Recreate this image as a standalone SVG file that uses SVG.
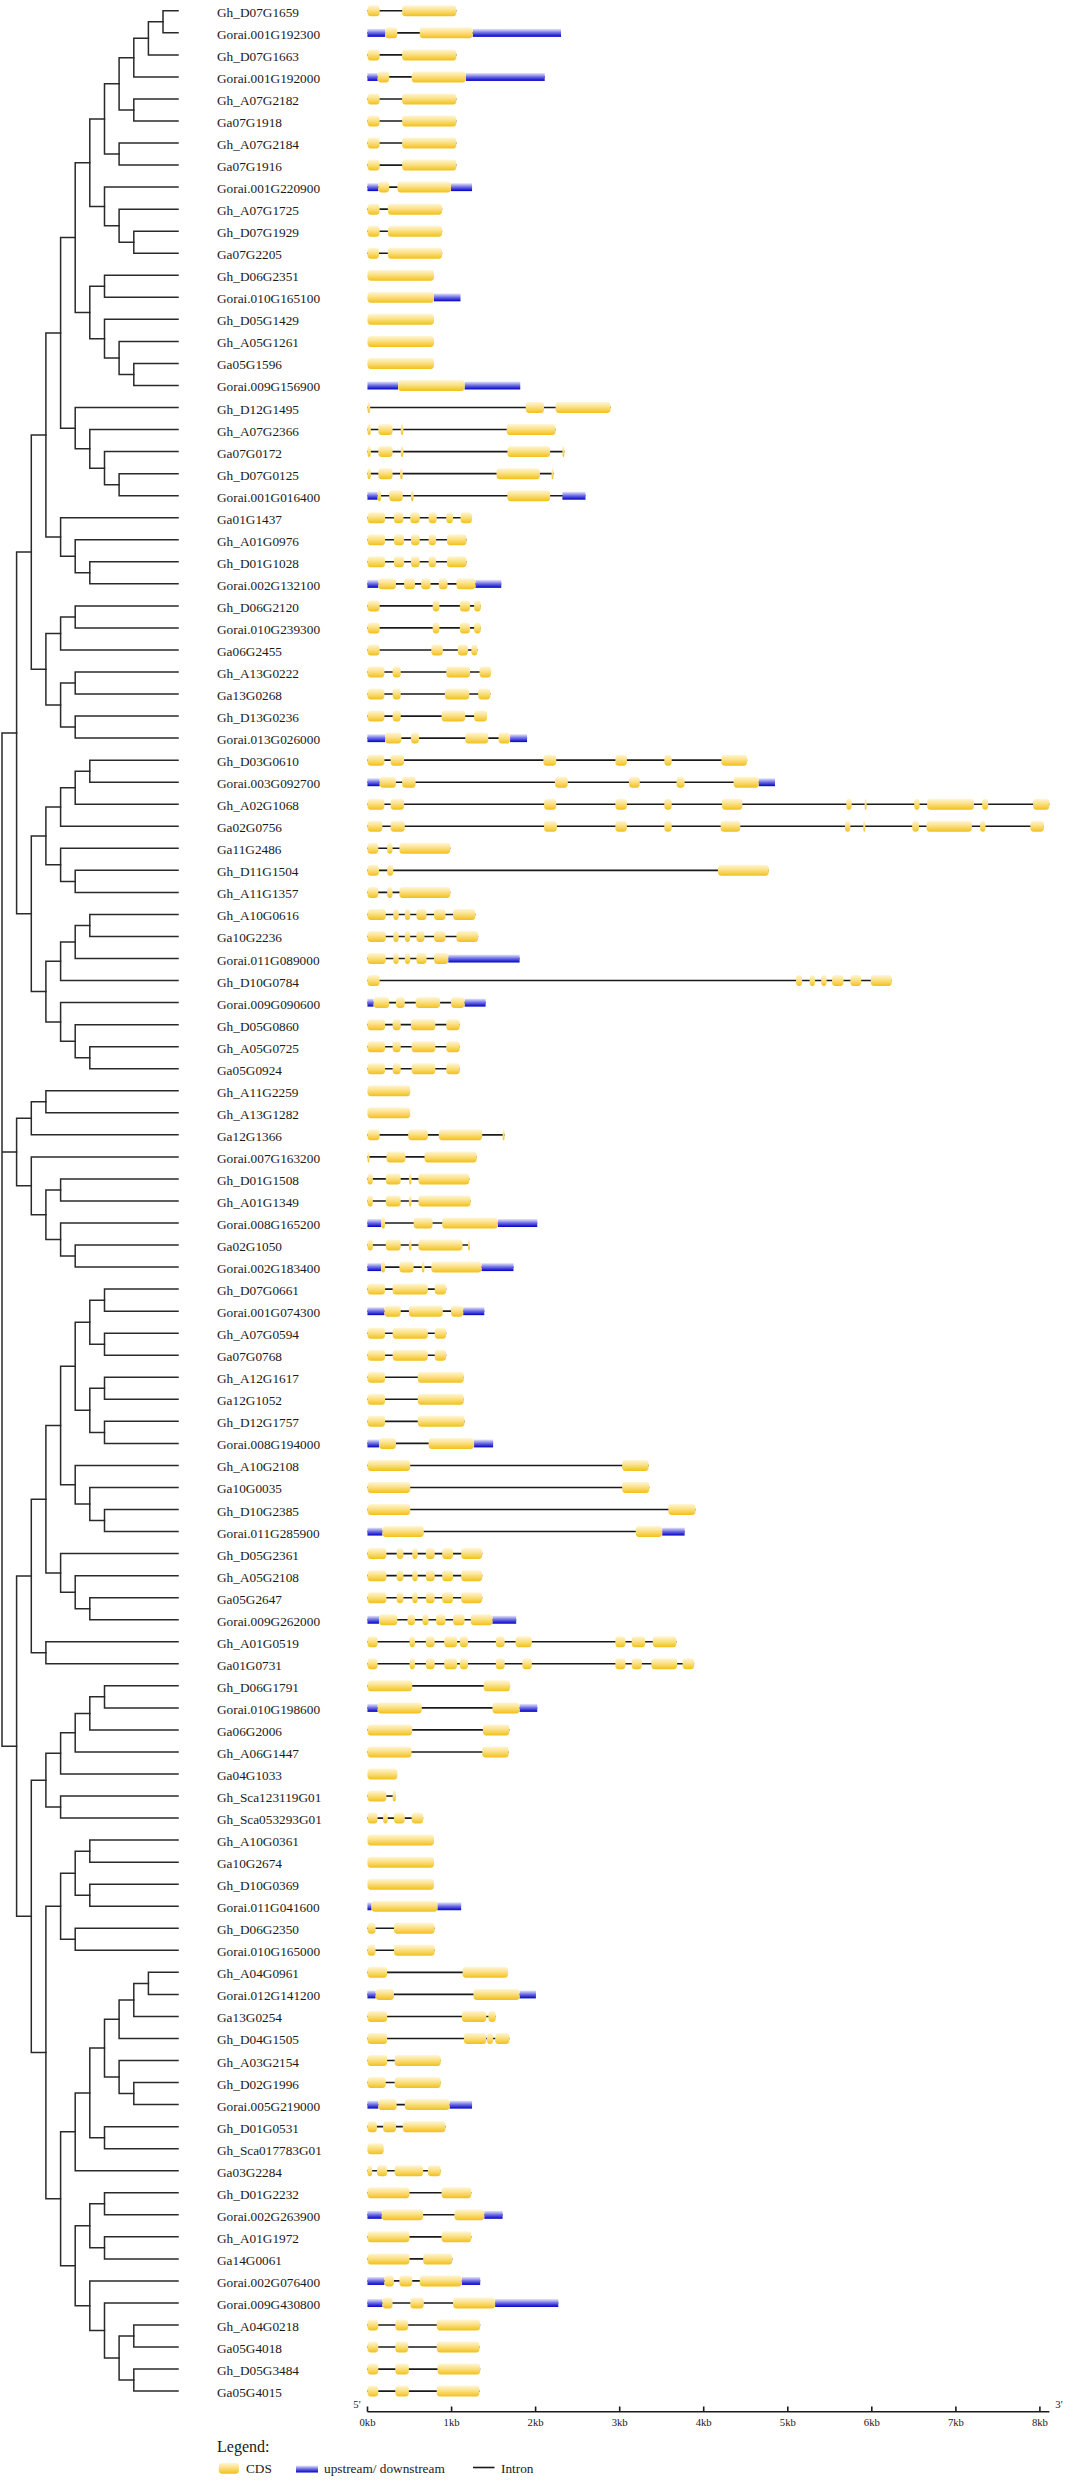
<svg xmlns="http://www.w3.org/2000/svg" width="1065" height="2481" viewBox="0 0 1065 2481">
<defs>
<linearGradient id="gc" x1="0" y1="0" x2="0" y2="1"><stop offset="0" stop-color="#fff6d6"/><stop offset="0.45" stop-color="#fbe186"/><stop offset="1" stop-color="#f2c01a"/></linearGradient>
<linearGradient id="gu" x1="0" y1="0" x2="0" y2="1"><stop offset="0" stop-color="#e8e8fb"/><stop offset="0.5" stop-color="#6b6be6"/><stop offset="1" stop-color="#0000c4"/></linearGradient>
</defs>
<style>
.lb{font-family:"Liberation Serif","Times New Roman",serif;font-size:13.3px;fill:#1a1a1a}
.c{fill:url(#gc);rx:5px;ry:4px}
.u{fill:url(#gu)}
.in{stroke:#1a1a1a;stroke-width:1.6;fill:none}
.tr{stroke:#2a2a2a;stroke-width:1.5;fill:none;stroke-linecap:square}
.ax{stroke:#1a1a1a;stroke-width:1.6;fill:none}
.tk{font-family:"Liberation Serif","Times New Roman",serif;font-size:10.7px;fill:#1a1a1a;text-anchor:middle}
.lg{font-family:"Liberation Serif","Times New Roman",serif;font-size:13.3px;fill:#1a1a1a}
</style>
<rect width="1065" height="2481" fill="#fff"/>
<g id="connectors" class="tr">
<path d="M163 10.8V32.84M163 10.8H178M163 32.84H178"/>
<path d="M148.4 21.82V54.88M148.4 21.82H163M148.4 54.88H178"/>
<path d="M133.8 38.35V76.92M133.8 38.35H148.4M133.8 76.92H178"/>
<path d="M133.8 98.96V121M133.8 98.96H178M133.8 121H178"/>
<path d="M119.1 57.64V109.98M119.1 57.64H133.8M119.1 109.98H133.8"/>
<path d="M119.1 143.04V165.08M119.1 143.04H178M119.1 165.08H178"/>
<path d="M104.5 83.81V154.06M104.5 83.81H119.1M104.5 154.06H119.1"/>
<path d="M133.8 231.2V253.24M133.8 231.2H178M133.8 253.24H178"/>
<path d="M119.1 209.16V242.22M119.1 209.16H178M119.1 242.22H133.8"/>
<path d="M104.5 187.12V225.69M104.5 187.12H178M104.5 225.69H119.1"/>
<path d="M89.8 118.93V206.41M89.8 118.93H104.5M89.8 206.41H104.5"/>
<path d="M104.5 275.28V297.32M104.5 275.28H178M104.5 297.32H178"/>
<path d="M133.8 363.44V385.48M133.8 363.44H178M133.8 385.48H178"/>
<path d="M119.1 341.4V374.46M119.1 341.4H178M119.1 374.46H133.8"/>
<path d="M104.5 319.36V357.93M104.5 319.36H178M104.5 357.93H119.1"/>
<path d="M89.8 286.3V338.65M89.8 286.3H104.5M89.8 338.65H104.5"/>
<path d="M75.2 162.67V312.47M75.2 162.67H89.8M75.2 312.47H89.8"/>
<path d="M119.1 473.64V495.68M119.1 473.64H178M119.1 495.68H178"/>
<path d="M104.5 451.6V484.66M104.5 451.6H178M104.5 484.66H119.1"/>
<path d="M89.8 429.56V468.13M89.8 429.56H178M89.8 468.13H104.5"/>
<path d="M75.2 407.52V448.85M75.2 407.52H178M75.2 448.85H89.8"/>
<path d="M60.6 237.57V428.18M60.6 237.57H75.2M60.6 428.18H75.2"/>
<path d="M89.8 561.8V583.84M89.8 561.8H178M89.8 583.84H178"/>
<path d="M75.2 539.76V572.82M75.2 539.76H178M75.2 572.82H89.8"/>
<path d="M60.6 517.72V556.29M60.6 517.72H178M60.6 556.29H75.2"/>
<path d="M45.9 332.88V537.01M45.9 332.88H60.6M45.9 537.01H60.6"/>
<path d="M75.2 605.88V627.92M75.2 605.88H178M75.2 627.92H178"/>
<path d="M60.6 616.9V649.96M60.6 616.9H75.2M60.6 649.96H178"/>
<path d="M75.2 672V694.04M75.2 672H178M75.2 694.04H178"/>
<path d="M75.2 716.08V738.12M75.2 716.08H178M75.2 738.12H178"/>
<path d="M60.6 683.02V727.1M60.6 683.02H75.2M60.6 727.1H75.2"/>
<path d="M45.9 633.43V705.06M45.9 633.43H60.6M45.9 705.06H60.6"/>
<path d="M31.3 434.94V669.25M31.3 434.94H45.9M31.3 669.25H45.9"/>
<path d="M89.8 760.16V782.2M89.8 760.16H178M89.8 782.2H178"/>
<path d="M75.2 771.18V804.24M75.2 771.18H89.8M75.2 804.24H178"/>
<path d="M60.6 787.71V826.28M60.6 787.71H75.2M60.6 826.28H178"/>
<path d="M75.2 870.36V892.4M75.2 870.36H178M75.2 892.4H178"/>
<path d="M60.6 848.32V881.38M60.6 848.32H178M60.6 881.38H75.2"/>
<path d="M45.9 807V864.85M45.9 807H60.6M45.9 864.85H60.6"/>
<path d="M89.8 914.44V936.48M89.8 914.44H178M89.8 936.48H178"/>
<path d="M75.2 925.46V958.52M75.2 925.46H89.8M75.2 958.52H178"/>
<path d="M60.6 941.99V980.56M60.6 941.99H75.2M60.6 980.56H178"/>
<path d="M89.8 1046.68V1068.72M89.8 1046.68H178M89.8 1068.72H178"/>
<path d="M75.2 1024.64V1057.7M75.2 1024.64H178M75.2 1057.7H89.8"/>
<path d="M60.6 1002.6V1041.17M60.6 1002.6H178M60.6 1041.17H75.2"/>
<path d="M45.9 961.28V1021.89M45.9 961.28H60.6M45.9 1021.89H60.6"/>
<path d="M31.3 835.92V991.58M31.3 835.92H45.9M31.3 991.58H45.9"/>
<path d="M16.6 552.09V913.75M16.6 552.09H31.3M16.6 913.75H31.3"/>
<path d="M45.9 1090.76V1112.8M45.9 1090.76H178M45.9 1112.8H178"/>
<path d="M31.3 1101.78V1134.84M31.3 1101.78H45.9M31.3 1134.84H178"/>
<path d="M60.6 1178.92V1200.96M60.6 1178.92H178M60.6 1200.96H178"/>
<path d="M75.2 1245.04V1267.08M75.2 1245.04H178M75.2 1267.08H178"/>
<path d="M60.6 1223V1256.06M60.6 1223H178M60.6 1256.06H75.2"/>
<path d="M45.9 1189.94V1239.53M45.9 1189.94H60.6M45.9 1239.53H60.6"/>
<path d="M31.3 1156.88V1214.74M31.3 1156.88H178M31.3 1214.74H45.9"/>
<path d="M16.6 1118.31V1185.81M16.6 1118.31H31.3M16.6 1185.81H31.3"/>
<path d="M104.5 1289.12V1311.16M104.5 1289.12H178M104.5 1311.16H178"/>
<path d="M104.5 1333.2V1355.24M104.5 1333.2H178M104.5 1355.24H178"/>
<path d="M89.8 1300.14V1344.22M89.8 1300.14H104.5M89.8 1344.22H104.5"/>
<path d="M104.5 1377.28V1399.32M104.5 1377.28H178M104.5 1399.32H178"/>
<path d="M104.5 1421.36V1443.4M104.5 1421.36H178M104.5 1443.4H178"/>
<path d="M89.8 1388.3V1432.38M89.8 1388.3H104.5M89.8 1432.38H104.5"/>
<path d="M75.2 1322.18V1410.34M75.2 1322.18H89.8M75.2 1410.34H89.8"/>
<path d="M104.5 1509.52V1531.56M104.5 1509.52H178M104.5 1531.56H178"/>
<path d="M89.8 1487.48V1520.54M89.8 1487.48H178M89.8 1520.54H104.5"/>
<path d="M75.2 1465.44V1504.01M75.2 1465.44H178M75.2 1504.01H89.8"/>
<path d="M60.6 1366.26V1484.73M60.6 1366.26H75.2M60.6 1484.73H75.2"/>
<path d="M89.8 1597.68V1619.72M89.8 1597.68H178M89.8 1619.72H178"/>
<path d="M75.2 1575.64V1608.7M75.2 1575.64H178M75.2 1608.7H89.8"/>
<path d="M60.6 1553.6V1592.17M60.6 1553.6H178M60.6 1592.17H75.2"/>
<path d="M45.9 1425.49V1572.89M45.9 1425.49H60.6M45.9 1572.89H60.6"/>
<path d="M45.9 1641.76V1663.8M45.9 1641.76H178M45.9 1663.8H178"/>
<path d="M31.3 1499.19V1652.78M31.3 1499.19H45.9M31.3 1652.78H45.9"/>
<path d="M104.5 1685.84V1707.88M104.5 1685.84H178M104.5 1707.88H178"/>
<path d="M89.8 1696.86V1729.92M89.8 1696.86H104.5M89.8 1729.92H178"/>
<path d="M75.2 1713.39V1751.96M75.2 1713.39H89.8M75.2 1751.96H178"/>
<path d="M60.6 1732.68V1774M60.6 1732.68H75.2M60.6 1774H178"/>
<path d="M60.6 1796.04V1818.08M60.6 1796.04H178M60.6 1818.08H178"/>
<path d="M45.9 1753.34V1807.06M45.9 1753.34H60.6M45.9 1807.06H60.6"/>
<path d="M89.8 1840.12V1862.16M89.8 1840.12H178M89.8 1862.16H178"/>
<path d="M89.8 1884.2V1906.24M89.8 1884.2H178M89.8 1906.24H178"/>
<path d="M75.2 1851.14V1895.22M75.2 1851.14H89.8M75.2 1895.22H89.8"/>
<path d="M75.2 1928.28V1950.32M75.2 1928.28H178M75.2 1950.32H178"/>
<path d="M60.6 1873.18V1939.3M60.6 1873.18H75.2M60.6 1939.3H75.2"/>
<path d="M148.4 1972.36V1994.4M148.4 1972.36H178M148.4 1994.4H178"/>
<path d="M133.8 1983.38V2016.44M133.8 1983.38H148.4M133.8 2016.44H178"/>
<path d="M119.1 1999.91V2038.48M119.1 1999.91H133.8M119.1 2038.48H178"/>
<path d="M133.8 2082.56V2104.6M133.8 2082.56H178M133.8 2104.6H178"/>
<path d="M119.1 2060.52V2093.58M119.1 2060.52H178M119.1 2093.58H133.8"/>
<path d="M104.5 2019.2V2077.05M104.5 2019.2H119.1M104.5 2077.05H119.1"/>
<path d="M104.5 2126.64V2148.68M104.5 2126.64H178M104.5 2148.68H178"/>
<path d="M89.8 2048.12V2137.66M89.8 2048.12H104.5M89.8 2137.66H104.5"/>
<path d="M75.2 2092.89V2170.72M75.2 2092.89H89.8M75.2 2170.72H178"/>
<path d="M104.5 2192.76V2214.8M104.5 2192.76H178M104.5 2214.8H178"/>
<path d="M104.5 2236.84V2258.88M104.5 2236.84H178M104.5 2258.88H178"/>
<path d="M89.8 2203.78V2247.86M89.8 2203.78H104.5M89.8 2247.86H104.5"/>
<path d="M133.8 2325V2347.04M133.8 2325H178M133.8 2347.04H178"/>
<path d="M133.8 2369.08V2391.12M133.8 2369.08H178M133.8 2391.12H178"/>
<path d="M119.1 2336.02V2380.1M119.1 2336.02H133.8M119.1 2380.1H133.8"/>
<path d="M104.5 2302.96V2358.06M104.5 2302.96H178M104.5 2358.06H119.1"/>
<path d="M89.8 2280.92V2330.51M89.8 2280.92H178M89.8 2330.51H104.5"/>
<path d="M75.2 2225.82V2305.72M75.2 2225.82H89.8M75.2 2305.72H89.8"/>
<path d="M60.6 2131.81V2265.77M60.6 2131.81H75.2M60.6 2265.77H75.2"/>
<path d="M45.9 1906.24V2198.79M45.9 1906.24H60.6M45.9 2198.79H60.6"/>
<path d="M31.3 1780.2V2052.51M31.3 1780.2H45.9M31.3 2052.51H45.9"/>
<path d="M16.6 1575.98V1916.36M16.6 1575.98H31.3M16.6 1916.36H31.3"/>
<path d="M2 732.92V1746.17M2 732.92H16.6M2 1152.06H16.6M2 1746.17H16.6"/>
</g>
<g id="n1" transform="translate(0 10.8)"><text class="lb" x="217" y="6">Gh_D07G1659</text><g transform="scale(.6792 1)"><path class="in" d="M541 0H672"/><rect class="c" x="541" y="-5.5" width="18" height="11"/><rect class="c" x="592" y="-5.5" width="80" height="11"/></g></g>
<g id="n2" transform="translate(0 32.84)"><text class="lb" x="217" y="6">Gorai.001G192300</text><g transform="scale(.6792 1)"><path class="in" d="M541 0H826"/><rect class="u" x="541" y="-4" width="26" height="8"/><rect class="u" x="696" y="-4" width="130" height="8"/><rect class="c" x="567" y="-5.5" width="18" height="11"/><rect class="c" x="618" y="-5.5" width="78" height="11"/></g></g>
<g id="n3" transform="translate(0 54.88)"><text class="lb" x="217" y="6">Gh_D07G1663</text><g transform="scale(.6792 1)"><path class="in" d="M541 0H672"/><rect class="c" x="541" y="-5.5" width="18" height="11"/><rect class="c" x="592" y="-5.5" width="80" height="11"/></g></g>
<g id="n4" transform="translate(0 76.92)"><text class="lb" x="217" y="6">Gorai.001G192000</text><g transform="scale(.6792 1)"><path class="in" d="M541 0H802"/><rect class="u" x="541" y="-4" width="15" height="8"/><rect class="u" x="686" y="-4" width="116" height="8"/><rect class="c" x="556" y="-5.5" width="17" height="11"/><rect class="c" x="606" y="-5.5" width="80" height="11"/></g></g>
<g id="n5" transform="translate(0 98.96)"><text class="lb" x="217" y="6">Gh_A07G2182</text><g transform="scale(.6792 1)"><path class="in" d="M541 0H672"/><rect class="c" x="541" y="-5.5" width="18" height="11"/><rect class="c" x="592" y="-5.5" width="80" height="11"/></g></g>
<g id="n6" transform="translate(0 121)"><text class="lb" x="217" y="6">Ga07G1918</text><g transform="scale(.6792 1)"><path class="in" d="M541 0H672"/><rect class="c" x="541" y="-5.5" width="18" height="11"/><rect class="c" x="592" y="-5.5" width="80" height="11"/></g></g>
<g id="n7" transform="translate(0 143.04)"><text class="lb" x="217" y="6">Gh_A07G2184</text><g transform="scale(.6792 1)"><path class="in" d="M541 0H672"/><rect class="c" x="541" y="-5.5" width="18" height="11"/><rect class="c" x="592" y="-5.5" width="80" height="11"/></g></g>
<g id="n8" transform="translate(0 165.08)"><text class="lb" x="217" y="6">Ga07G1916</text><g transform="scale(.6792 1)"><path class="in" d="M541 0H672"/><rect class="c" x="541" y="-5.5" width="18" height="11"/><rect class="c" x="592" y="-5.5" width="80" height="11"/></g></g>
<g id="n9" transform="translate(0 187.12)"><text class="lb" x="217" y="6">Gorai.001G220900</text><g transform="scale(.6792 1)"><path class="in" d="M541 0H695"/><rect class="u" x="541" y="-4" width="16" height="8"/><rect class="u" x="664" y="-4" width="31" height="8"/><rect class="c" x="557" y="-5.5" width="16" height="11"/><rect class="c" x="585" y="-5.5" width="79" height="11"/></g></g>
<g id="n10" transform="translate(0 209.16)"><text class="lb" x="217" y="6">Gh_A07G1725</text><g transform="scale(.6792 1)"><path class="in" d="M541 0H651"/><rect class="c" x="541" y="-5.5" width="18" height="11"/><rect class="c" x="571" y="-5.5" width="80" height="11"/></g></g>
<g id="n11" transform="translate(0 231.2)"><text class="lb" x="217" y="6">Gh_D07G1929</text><g transform="scale(.6792 1)"><path class="in" d="M541 0H651"/><rect class="c" x="541" y="-5.5" width="18" height="11"/><rect class="c" x="571" y="-5.5" width="80" height="11"/></g></g>
<g id="n12" transform="translate(0 253.24)"><text class="lb" x="217" y="6">Ga07G2205</text><g transform="scale(.6792 1)"><path class="in" d="M541 0H651"/><rect class="c" x="541" y="-5.5" width="17" height="11"/><rect class="c" x="571" y="-5.5" width="80" height="11"/></g></g>
<g id="n13" transform="translate(0 275.28)"><text class="lb" x="217" y="6">Gh_D06G2351</text><g transform="scale(.6792 1)"><rect class="c" x="541" y="-5.5" width="98" height="11"/></g></g>
<g id="n14" transform="translate(0 297.32)"><text class="lb" x="217" y="6">Gorai.010G165100</text><g transform="scale(.6792 1)"><rect class="u" x="639" y="-4" width="39" height="8"/><rect class="c" x="541" y="-5.5" width="98" height="11"/></g></g>
<g id="n15" transform="translate(0 319.36)"><text class="lb" x="217" y="6">Gh_D05G1429</text><g transform="scale(.6792 1)"><rect class="c" x="541" y="-5.5" width="98" height="11"/></g></g>
<g id="n16" transform="translate(0 341.4)"><text class="lb" x="217" y="6">Gh_A05G1261</text><g transform="scale(.6792 1)"><rect class="c" x="541" y="-5.5" width="98" height="11"/></g></g>
<g id="n17" transform="translate(0 363.44)"><text class="lb" x="217" y="6">Ga05G1596</text><g transform="scale(.6792 1)"><rect class="c" x="541" y="-5.5" width="98" height="11"/></g></g>
<g id="n18" transform="translate(0 385.48)"><text class="lb" x="217" y="6">Gorai.009G156900</text><g transform="scale(.6792 1)"><rect class="u" x="541" y="-4" width="45" height="8"/><rect class="u" x="684" y="-4" width="82" height="8"/><rect class="c" x="586" y="-5.5" width="98" height="11"/></g></g>
<g id="n19" transform="translate(0 407.52)"><text class="lb" x="217" y="6">Gh_D12G1495</text><g transform="scale(.6792 1)"><path class="in" d="M541 0H899"/><rect class="c" x="541" y="-5.5" width="4" height="11"/><rect class="c" x="774" y="-5.5" width="27" height="11"/><rect class="c" x="818" y="-5.5" width="81" height="11"/></g></g>
<g id="n20" transform="translate(0 429.56)"><text class="lb" x="217" y="6">Gh_A07G2366</text><g transform="scale(.6792 1)"><path class="in" d="M541 0H818"/><rect class="c" x="541" y="-5.5" width="5" height="11"/><rect class="c" x="557" y="-5.5" width="21" height="11"/><rect class="c" x="590" y="-5.5" width="4" height="11"/><rect class="c" x="746" y="-5.5" width="72" height="11"/></g></g>
<g id="n21" transform="translate(0 451.6)"><text class="lb" x="217" y="6">Ga07G0172</text><g transform="scale(.6792 1)"><path class="in" d="M541 0H831"/><rect class="c" x="541" y="-5.5" width="5" height="11"/><rect class="c" x="557" y="-5.5" width="21" height="11"/><rect class="c" x="590" y="-5.5" width="4" height="11"/><rect class="c" x="747" y="-5.5" width="63" height="11"/><rect class="c" x="828" y="-5.5" width="3" height="11"/></g></g>
<g id="n22" transform="translate(0 473.64)"><text class="lb" x="217" y="6">Gh_D07G0125</text><g transform="scale(.6792 1)"><path class="in" d="M541 0H815"/><rect class="c" x="541" y="-5.5" width="5" height="11"/><rect class="c" x="557" y="-5.5" width="21" height="11"/><rect class="c" x="589" y="-5.5" width="4" height="11"/><rect class="c" x="731" y="-5.5" width="64" height="11"/><rect class="c" x="812" y="-5.5" width="3" height="11"/></g></g>
<g id="n23" transform="translate(0 495.68)"><text class="lb" x="217" y="6">Gorai.001G016400</text><g transform="scale(.6792 1)"><path class="in" d="M541 0H862"/><rect class="u" x="541" y="-4" width="15" height="8"/><rect class="u" x="828" y="-4" width="34" height="8"/><rect class="c" x="556" y="-5.5" width="5" height="11"/><rect class="c" x="573" y="-5.5" width="20" height="11"/><rect class="c" x="605" y="-5.5" width="4" height="11"/><rect class="c" x="747" y="-5.5" width="63" height="11"/></g></g>
<g id="n24" transform="translate(0 517.72)"><text class="lb" x="217" y="6">Ga01G1437</text><g transform="scale(.6792 1)"><path class="in" d="M541 0H695"/><rect class="c" x="541" y="-5.5" width="26" height="11"/><rect class="c" x="580" y="-5.5" width="14" height="11"/><rect class="c" x="604" y="-5.5" width="14" height="11"/><rect class="c" x="631" y="-5.5" width="12" height="11"/><rect class="c" x="657" y="-5.5" width="10" height="11"/><rect class="c" x="678" y="-5.5" width="17" height="11"/></g></g>
<g id="n25" transform="translate(0 539.76)"><text class="lb" x="217" y="6">Gh_A01G0976</text><g transform="scale(.6792 1)"><path class="in" d="M541 0H687"/><rect class="c" x="541" y="-5.5" width="26" height="11"/><rect class="c" x="580" y="-5.5" width="15" height="11"/><rect class="c" x="605" y="-5.5" width="13" height="11"/><rect class="c" x="631" y="-5.5" width="11" height="11"/><rect class="c" x="658" y="-5.5" width="29" height="11"/></g></g>
<g id="n26" transform="translate(0 561.8)"><text class="lb" x="217" y="6">Gh_D01G1028</text><g transform="scale(.6792 1)"><path class="in" d="M541 0H687"/><rect class="c" x="541" y="-5.5" width="26" height="11"/><rect class="c" x="580" y="-5.5" width="15" height="11"/><rect class="c" x="605" y="-5.5" width="13" height="11"/><rect class="c" x="631" y="-5.5" width="11" height="11"/><rect class="c" x="658" y="-5.5" width="29" height="11"/></g></g>
<g id="n27" transform="translate(0 583.84)"><text class="lb" x="217" y="6">Gorai.002G132100</text><g transform="scale(.6792 1)"><path class="in" d="M541 0H738"/><rect class="u" x="541" y="-4" width="16" height="8"/><rect class="u" x="700" y="-4" width="38" height="8"/><rect class="c" x="557" y="-5.5" width="26" height="11"/><rect class="c" x="595" y="-5.5" width="16" height="11"/><rect class="c" x="620" y="-5.5" width="14" height="11"/><rect class="c" x="646" y="-5.5" width="13" height="11"/><rect class="c" x="672" y="-5.5" width="28" height="11"/></g></g>
<g id="n28" transform="translate(0 605.88)"><text class="lb" x="217" y="6">Gh_D06G2120</text><g transform="scale(.6792 1)"><path class="in" d="M541 0H708"/><rect class="c" x="541" y="-5.5" width="18" height="11"/><rect class="c" x="637" y="-5.5" width="10" height="11"/><rect class="c" x="677" y="-5.5" width="15" height="11"/><rect class="c" x="698" y="-5.5" width="10" height="11"/></g></g>
<g id="n29" transform="translate(0 627.92)"><text class="lb" x="217" y="6">Gorai.010G239300</text><g transform="scale(.6792 1)"><path class="in" d="M541 0H708"/><rect class="c" x="541" y="-5.5" width="18" height="11"/><rect class="c" x="637" y="-5.5" width="10" height="11"/><rect class="c" x="677" y="-5.5" width="15" height="11"/><rect class="c" x="698" y="-5.5" width="10" height="11"/></g></g>
<g id="n30" transform="translate(0 649.96)"><text class="lb" x="217" y="6">Ga06G2455</text><g transform="scale(.6792 1)"><path class="in" d="M541 0H703"/><rect class="c" x="541" y="-5.5" width="18" height="11"/><rect class="c" x="635" y="-5.5" width="17" height="11"/><rect class="c" x="674" y="-5.5" width="15" height="11"/><rect class="c" x="694" y="-5.5" width="9" height="11"/></g></g>
<g id="n31" transform="translate(0 672)"><text class="lb" x="217" y="6">Gh_A13G0222</text><g transform="scale(.6792 1)"><path class="in" d="M541 0H723"/><rect class="c" x="541" y="-5.5" width="25" height="11"/><rect class="c" x="578" y="-5.5" width="12" height="11"/><rect class="c" x="657" y="-5.5" width="35" height="11"/><rect class="c" x="706" y="-5.5" width="17" height="11"/></g></g>
<g id="n32" transform="translate(0 694.04)"><text class="lb" x="217" y="6">Ga13G0268</text><g transform="scale(.6792 1)"><path class="in" d="M541 0H722"/><rect class="c" x="541" y="-5.5" width="25" height="11"/><rect class="c" x="578" y="-5.5" width="12" height="11"/><rect class="c" x="655" y="-5.5" width="36" height="11"/><rect class="c" x="704" y="-5.5" width="18" height="11"/></g></g>
<g id="n33" transform="translate(0 716.08)"><text class="lb" x="217" y="6">Gh_D13G0236</text><g transform="scale(.6792 1)"><path class="in" d="M541 0H717"/><rect class="c" x="541" y="-5.5" width="25" height="11"/><rect class="c" x="578" y="-5.5" width="12" height="11"/><rect class="c" x="650" y="-5.5" width="35" height="11"/><rect class="c" x="698" y="-5.5" width="19" height="11"/></g></g>
<g id="n34" transform="translate(0 738.12)"><text class="lb" x="217" y="6">Gorai.013G026000</text><g transform="scale(.6792 1)"><path class="in" d="M541 0H776"/><rect class="u" x="541" y="-4" width="26" height="8"/><rect class="u" x="751" y="-4" width="25" height="8"/><rect class="c" x="567" y="-5.5" width="24" height="11"/><rect class="c" x="605" y="-5.5" width="12" height="11"/><rect class="c" x="685" y="-5.5" width="34" height="11"/><rect class="c" x="734" y="-5.5" width="17" height="11"/></g></g>
<g id="n35" transform="translate(0 760.16)"><text class="lb" x="217" y="6">Gh_D03G0610</text><g transform="scale(.6792 1)"><path class="in" d="M541 0H1100"/><rect class="c" x="541" y="-5.5" width="25" height="11"/><rect class="c" x="575" y="-5.5" width="20" height="11"/><rect class="c" x="800" y="-5.5" width="19" height="11"/><rect class="c" x="906" y="-5.5" width="17" height="11"/><rect class="c" x="978" y="-5.5" width="11" height="11"/><rect class="c" x="1062" y="-5.5" width="38" height="11"/></g></g>
<g id="n36" transform="translate(0 782.2)"><text class="lb" x="217" y="6">Gorai.003G092700</text><g transform="scale(.6792 1)"><path class="in" d="M541 0H1141"/><rect class="u" x="541" y="-4" width="18" height="8"/><rect class="u" x="1117" y="-4" width="24" height="8"/><rect class="c" x="559" y="-5.5" width="24" height="11"/><rect class="c" x="592" y="-5.5" width="20" height="11"/><rect class="c" x="817" y="-5.5" width="19" height="11"/><rect class="c" x="926" y="-5.5" width="16" height="11"/><rect class="c" x="996" y="-5.5" width="12" height="11"/><rect class="c" x="1080" y="-5.5" width="37" height="11"/></g></g>
<g id="n37" transform="translate(0 804.24)"><text class="lb" x="217" y="6">Gh_A02G1068</text><g transform="scale(.6792 1)"><path class="in" d="M541 0H1545"/><rect class="c" x="541" y="-5.5" width="25" height="11"/><rect class="c" x="575" y="-5.5" width="20" height="11"/><rect class="c" x="801" y="-5.5" width="18" height="11"/><rect class="c" x="906" y="-5.5" width="17" height="11"/><rect class="c" x="978" y="-5.5" width="11" height="11"/><rect class="c" x="1063" y="-5.5" width="30" height="11"/><rect class="c" x="1246" y="-5.5" width="8" height="11"/><rect class="c" x="1273" y="-5.5" width="3" height="11"/><rect class="c" x="1346" y="-5.5" width="8" height="11"/><rect class="c" x="1365" y="-5.5" width="69" height="11"/><rect class="c" x="1446" y="-5.5" width="9" height="11"/><rect class="c" x="1521" y="-5.5" width="24" height="11"/></g></g>
<g id="n38" transform="translate(0 826.28)"><text class="lb" x="217" y="6">Ga02G0756</text><g transform="scale(.6792 1)"><path class="in" d="M541 0H1537"/><rect class="c" x="541" y="-5.5" width="22" height="11"/><rect class="c" x="575" y="-5.5" width="21" height="11"/><rect class="c" x="801" y="-5.5" width="19" height="11"/><rect class="c" x="906" y="-5.5" width="17" height="11"/><rect class="c" x="978" y="-5.5" width="11" height="11"/><rect class="c" x="1061" y="-5.5" width="29" height="11"/><rect class="c" x="1244" y="-5.5" width="8" height="11"/><rect class="c" x="1271" y="-5.5" width="3" height="11"/><rect class="c" x="1343" y="-5.5" width="10" height="11"/><rect class="c" x="1364" y="-5.5" width="67" height="11"/><rect class="c" x="1443" y="-5.5" width="8" height="11"/><rect class="c" x="1517" y="-5.5" width="20" height="11"/></g></g>
<g id="n39" transform="translate(0 848.32)"><text class="lb" x="217" y="6">Ga11G2486</text><g transform="scale(.6792 1)"><path class="in" d="M541 0H663"/><rect class="c" x="541" y="-5.5" width="16" height="11"/><rect class="c" x="570" y="-5.5" width="8" height="11"/><rect class="c" x="588" y="-5.5" width="75" height="11"/></g></g>
<g id="n40" transform="translate(0 870.36)"><text class="lb" x="217" y="6">Gh_D11G1504</text><g transform="scale(.6792 1)"><path class="in" d="M541 0H1132"/><rect class="c" x="541" y="-5.5" width="17" height="11"/><rect class="c" x="570" y="-5.5" width="9" height="11"/><rect class="c" x="1057" y="-5.5" width="75" height="11"/></g></g>
<g id="n41" transform="translate(0 892.4)"><text class="lb" x="217" y="6">Gh_A11G1357</text><g transform="scale(.6792 1)"><path class="in" d="M541 0H663"/><rect class="c" x="541" y="-5.5" width="16" height="11"/><rect class="c" x="570" y="-5.5" width="8" height="11"/><rect class="c" x="588" y="-5.5" width="75" height="11"/></g></g>
<g id="n42" transform="translate(0 914.44)"><text class="lb" x="217" y="6">Gh_A10G0616</text><g transform="scale(.6792 1)"><path class="in" d="M541 0H700"/><rect class="c" x="541" y="-5.5" width="27" height="11"/><rect class="c" x="579" y="-5.5" width="8" height="11"/><rect class="c" x="596" y="-5.5" width="8" height="11"/><rect class="c" x="613" y="-5.5" width="15" height="11"/><rect class="c" x="639" y="-5.5" width="17" height="11"/><rect class="c" x="667" y="-5.5" width="33" height="11"/></g></g>
<g id="n43" transform="translate(0 936.48)"><text class="lb" x="217" y="6">Ga10G2236</text><g transform="scale(.6792 1)"><path class="in" d="M541 0H704"/><rect class="c" x="541" y="-5.5" width="27" height="11"/><rect class="c" x="579" y="-5.5" width="8" height="11"/><rect class="c" x="596" y="-5.5" width="8" height="11"/><rect class="c" x="613" y="-5.5" width="12" height="11"/><rect class="c" x="639" y="-5.5" width="17" height="11"/><rect class="c" x="672" y="-5.5" width="32" height="11"/></g></g>
<g id="n44" transform="translate(0 958.52)"><text class="lb" x="217" y="6">Gorai.011G089000</text><g transform="scale(.6792 1)"><path class="in" d="M541 0H765"/><rect class="u" x="660" y="-4" width="105" height="8"/><rect class="c" x="541" y="-5.5" width="27" height="11"/><rect class="c" x="579" y="-5.5" width="8" height="11"/><rect class="c" x="596" y="-5.5" width="8" height="11"/><rect class="c" x="613" y="-5.5" width="15" height="11"/><rect class="c" x="639" y="-5.5" width="21" height="11"/></g></g>
<g id="n45" transform="translate(0 980.56)"><text class="lb" x="217" y="6">Gh_D10G0784</text><g transform="scale(.6792 1)"><path class="in" d="M541 0H1313"/><rect class="c" x="541" y="-5.5" width="18" height="11"/><rect class="c" x="1172" y="-5.5" width="9" height="11"/><rect class="c" x="1192" y="-5.5" width="8" height="11"/><rect class="c" x="1209" y="-5.5" width="8" height="11"/><rect class="c" x="1225" y="-5.5" width="17" height="11"/><rect class="c" x="1252" y="-5.5" width="16" height="11"/><rect class="c" x="1282" y="-5.5" width="31" height="11"/></g></g>
<g id="n46" transform="translate(0 1002.6)"><text class="lb" x="217" y="6">Gorai.009G090600</text><g transform="scale(.6792 1)"><path class="in" d="M541 0H715"/><rect class="u" x="541" y="-4" width="9" height="8"/><rect class="u" x="684" y="-4" width="31" height="8"/><rect class="c" x="550" y="-5.5" width="23" height="11"/><rect class="c" x="583" y="-5.5" width="13" height="11"/><rect class="c" x="612" y="-5.5" width="36" height="11"/><rect class="c" x="664" y="-5.5" width="20" height="11"/></g></g>
<g id="n47" transform="translate(0 1024.64)"><text class="lb" x="217" y="6">Gh_D05G0860</text><g transform="scale(.6792 1)"><path class="in" d="M541 0H677"/><rect class="c" x="541" y="-5.5" width="26" height="11"/><rect class="c" x="578" y="-5.5" width="12" height="11"/><rect class="c" x="605" y="-5.5" width="36" height="11"/><rect class="c" x="657" y="-5.5" width="20" height="11"/></g></g>
<g id="n48" transform="translate(0 1046.68)"><text class="lb" x="217" y="6">Gh_A05G0725</text><g transform="scale(.6792 1)"><path class="in" d="M541 0H677"/><rect class="c" x="541" y="-5.5" width="26" height="11"/><rect class="c" x="578" y="-5.5" width="12" height="11"/><rect class="c" x="606" y="-5.5" width="35" height="11"/><rect class="c" x="657" y="-5.5" width="20" height="11"/></g></g>
<g id="n49" transform="translate(0 1068.72)"><text class="lb" x="217" y="6">Ga05G0924</text><g transform="scale(.6792 1)"><path class="in" d="M541 0H677"/><rect class="c" x="541" y="-5.5" width="26" height="11"/><rect class="c" x="578" y="-5.5" width="12" height="11"/><rect class="c" x="606" y="-5.5" width="35" height="11"/><rect class="c" x="657" y="-5.5" width="20" height="11"/></g></g>
<g id="n50" transform="translate(0 1090.76)"><text class="lb" x="217" y="6">Gh_A11G2259</text><g transform="scale(.6792 1)"><rect class="c" x="541" y="-5.5" width="63" height="11"/></g></g>
<g id="n51" transform="translate(0 1112.8)"><text class="lb" x="217" y="6">Gh_A13G1282</text><g transform="scale(.6792 1)"><rect class="c" x="541" y="-5.5" width="63" height="11"/></g></g>
<g id="n52" transform="translate(0 1134.84)"><text class="lb" x="217" y="6">Ga12G1366</text><g transform="scale(.6792 1)"><path class="in" d="M541 0H743"/><rect class="c" x="541" y="-5.5" width="18" height="11"/><rect class="c" x="601" y="-5.5" width="29" height="11"/><rect class="c" x="646" y="-5.5" width="64" height="11"/><rect class="c" x="740" y="-5.5" width="3" height="11"/></g></g>
<g id="n53" transform="translate(0 1156.88)"><text class="lb" x="217" y="6">Gorai.007G163200</text><g transform="scale(.6792 1)"><path class="in" d="M541 0H702"/><rect class="c" x="541" y="-5.5" width="3" height="11"/><rect class="c" x="569" y="-5.5" width="28" height="11"/><rect class="c" x="625" y="-5.5" width="77" height="11"/></g></g>
<g id="n54" transform="translate(0 1178.92)"><text class="lb" x="217" y="6">Gh_D01G1508</text><g transform="scale(.6792 1)"><path class="in" d="M541 0H691"/><rect class="c" x="541" y="-5.5" width="8" height="11"/><rect class="c" x="568" y="-5.5" width="22" height="11"/><rect class="c" x="602" y="-5.5" width="4" height="11"/><rect class="c" x="616" y="-5.5" width="75" height="11"/></g></g>
<g id="n55" transform="translate(0 1200.96)"><text class="lb" x="217" y="6">Gh_A01G1349</text><g transform="scale(.6792 1)"><path class="in" d="M541 0H693"/><rect class="c" x="541" y="-5.5" width="8" height="11"/><rect class="c" x="568" y="-5.5" width="22" height="11"/><rect class="c" x="602" y="-5.5" width="4" height="11"/><rect class="c" x="616" y="-5.5" width="77" height="11"/></g></g>
<g id="n56" transform="translate(0 1223)"><text class="lb" x="217" y="6">Gorai.008G165200</text><g transform="scale(.6792 1)"><path class="in" d="M541 0H791"/><rect class="u" x="541" y="-4" width="20" height="8"/><rect class="u" x="733" y="-4" width="58" height="8"/><rect class="c" x="561" y="-5.5" width="6" height="11"/><rect class="c" x="609" y="-5.5" width="28" height="11"/><rect class="c" x="651" y="-5.5" width="82" height="11"/></g></g>
<g id="n57" transform="translate(0 1245.04)"><text class="lb" x="217" y="6">Ga02G1050</text><g transform="scale(.6792 1)"><path class="in" d="M541 0H692"/><rect class="c" x="541" y="-5.5" width="8" height="11"/><rect class="c" x="568" y="-5.5" width="22" height="11"/><rect class="c" x="602" y="-5.5" width="4" height="11"/><rect class="c" x="616" y="-5.5" width="65" height="11"/><rect class="c" x="689" y="-5.5" width="3" height="11"/></g></g>
<g id="n58" transform="translate(0 1267.08)"><text class="lb" x="217" y="6">Gorai.002G183400</text><g transform="scale(.6792 1)"><path class="in" d="M541 0H756"/><rect class="u" x="541" y="-4" width="20" height="8"/><rect class="u" x="709" y="-4" width="47" height="8"/><rect class="c" x="561" y="-5.5" width="6" height="11"/><rect class="c" x="588" y="-5.5" width="21" height="11"/><rect class="c" x="621" y="-5.5" width="4" height="11"/><rect class="c" x="635" y="-5.5" width="74" height="11"/></g></g>
<g id="n59" transform="translate(0 1289.12)"><text class="lb" x="217" y="6">Gh_D07G0661</text><g transform="scale(.6792 1)"><path class="in" d="M541 0H657"/><rect class="c" x="541" y="-5.5" width="26" height="11"/><rect class="c" x="578" y="-5.5" width="52" height="11"/><rect class="c" x="640" y="-5.5" width="17" height="11"/></g></g>
<g id="n60" transform="translate(0 1311.16)"><text class="lb" x="217" y="6">Gorai.001G074300</text><g transform="scale(.6792 1)"><path class="in" d="M541 0H713"/><rect class="u" x="541" y="-4" width="25" height="8"/><rect class="u" x="682" y="-4" width="31" height="8"/><rect class="c" x="566" y="-5.5" width="24" height="11"/><rect class="c" x="602" y="-5.5" width="50" height="11"/><rect class="c" x="664" y="-5.5" width="18" height="11"/></g></g>
<g id="n61" transform="translate(0 1333.2)"><text class="lb" x="217" y="6">Gh_A07G0594</text><g transform="scale(.6792 1)"><path class="in" d="M541 0H657"/><rect class="c" x="541" y="-5.5" width="26" height="11"/><rect class="c" x="578" y="-5.5" width="52" height="11"/><rect class="c" x="640" y="-5.5" width="17" height="11"/></g></g>
<g id="n62" transform="translate(0 1355.24)"><text class="lb" x="217" y="6">Ga07G0768</text><g transform="scale(.6792 1)"><path class="in" d="M541 0H657"/><rect class="c" x="541" y="-5.5" width="26" height="11"/><rect class="c" x="578" y="-5.5" width="52" height="11"/><rect class="c" x="640" y="-5.5" width="17" height="11"/></g></g>
<g id="n63" transform="translate(0 1377.28)"><text class="lb" x="217" y="6">Gh_A12G1617</text><g transform="scale(.6792 1)"><path class="in" d="M541 0H683"/><rect class="c" x="541" y="-5.5" width="26" height="11"/><rect class="c" x="615" y="-5.5" width="68" height="11"/></g></g>
<g id="n64" transform="translate(0 1399.32)"><text class="lb" x="217" y="6">Ga12G1052</text><g transform="scale(.6792 1)"><path class="in" d="M541 0H683"/><rect class="c" x="541" y="-5.5" width="26" height="11"/><rect class="c" x="615" y="-5.5" width="68" height="11"/></g></g>
<g id="n65" transform="translate(0 1421.36)"><text class="lb" x="217" y="6">Gh_D12G1757</text><g transform="scale(.6792 1)"><path class="in" d="M541 0H684"/><rect class="c" x="541" y="-5.5" width="26" height="11"/><rect class="c" x="615" y="-5.5" width="69" height="11"/></g></g>
<g id="n66" transform="translate(0 1443.4)"><text class="lb" x="217" y="6">Gorai.008G194000</text><g transform="scale(.6792 1)"><path class="in" d="M541 0H726"/><rect class="u" x="541" y="-4" width="17" height="8"/><rect class="u" x="698" y="-4" width="28" height="8"/><rect class="c" x="558" y="-5.5" width="25" height="11"/><rect class="c" x="631" y="-5.5" width="67" height="11"/></g></g>
<g id="n67" transform="translate(0 1465.44)"><text class="lb" x="217" y="6">Gh_A10G2108</text><g transform="scale(.6792 1)"><path class="in" d="M541 0H955"/><rect class="c" x="541" y="-5.5" width="63" height="11"/><rect class="c" x="916" y="-5.5" width="39" height="11"/></g></g>
<g id="n68" transform="translate(0 1487.48)"><text class="lb" x="217" y="6">Ga10G0035</text><g transform="scale(.6792 1)"><path class="in" d="M541 0H956"/><rect class="c" x="541" y="-5.5" width="63" height="11"/><rect class="c" x="916" y="-5.5" width="40" height="11"/></g></g>
<g id="n69" transform="translate(0 1509.52)"><text class="lb" x="217" y="6">Gh_D10G2385</text><g transform="scale(.6792 1)"><path class="in" d="M541 0H1024"/><rect class="c" x="541" y="-5.5" width="63" height="11"/><rect class="c" x="984" y="-5.5" width="40" height="11"/></g></g>
<g id="n70" transform="translate(0 1531.56)"><text class="lb" x="217" y="6">Gorai.011G285900</text><g transform="scale(.6792 1)"><path class="in" d="M541 0H1008"/><rect class="u" x="541" y="-4" width="22" height="8"/><rect class="u" x="975" y="-4" width="33" height="8"/><rect class="c" x="563" y="-5.5" width="61" height="11"/><rect class="c" x="936" y="-5.5" width="39" height="11"/></g></g>
<g id="n71" transform="translate(0 1553.6)"><text class="lb" x="217" y="6">Gh_D05G2361</text><g transform="scale(.6792 1)"><path class="in" d="M541 0H710"/><rect class="c" x="541" y="-5.5" width="28" height="11"/><rect class="c" x="584" y="-5.5" width="10" height="11"/><rect class="c" x="607" y="-5.5" width="8" height="11"/><rect class="c" x="627" y="-5.5" width="13" height="11"/><rect class="c" x="651" y="-5.5" width="16" height="11"/><rect class="c" x="679" y="-5.5" width="31" height="11"/></g></g>
<g id="n72" transform="translate(0 1575.64)"><text class="lb" x="217" y="6">Gh_A05G2108</text><g transform="scale(.6792 1)"><path class="in" d="M541 0H710"/><rect class="c" x="541" y="-5.5" width="28" height="11"/><rect class="c" x="584" y="-5.5" width="10" height="11"/><rect class="c" x="607" y="-5.5" width="8" height="11"/><rect class="c" x="627" y="-5.5" width="13" height="11"/><rect class="c" x="651" y="-5.5" width="16" height="11"/><rect class="c" x="679" y="-5.5" width="31" height="11"/></g></g>
<g id="n73" transform="translate(0 1597.68)"><text class="lb" x="217" y="6">Ga05G2647</text><g transform="scale(.6792 1)"><path class="in" d="M541 0H710"/><rect class="c" x="541" y="-5.5" width="28" height="11"/><rect class="c" x="584" y="-5.5" width="10" height="11"/><rect class="c" x="607" y="-5.5" width="8" height="11"/><rect class="c" x="627" y="-5.5" width="13" height="11"/><rect class="c" x="651" y="-5.5" width="16" height="11"/><rect class="c" x="679" y="-5.5" width="31" height="11"/></g></g>
<g id="n74" transform="translate(0 1619.72)"><text class="lb" x="217" y="6">Gorai.009G262000</text><g transform="scale(.6792 1)"><path class="in" d="M541 0H760"/><rect class="u" x="541" y="-4" width="17" height="8"/><rect class="u" x="725" y="-4" width="35" height="8"/><rect class="c" x="558" y="-5.5" width="27" height="11"/><rect class="c" x="600" y="-5.5" width="11" height="11"/><rect class="c" x="622" y="-5.5" width="9" height="11"/><rect class="c" x="642" y="-5.5" width="14" height="11"/><rect class="c" x="667" y="-5.5" width="17" height="11"/><rect class="c" x="693" y="-5.5" width="32" height="11"/></g></g>
<g id="n75" transform="translate(0 1641.76)"><text class="lb" x="217" y="6">Gh_A01G0519</text><g transform="scale(.6792 1)"><path class="in" d="M541 0H996"/><rect class="c" x="541" y="-5.5" width="15" height="11"/><rect class="c" x="603" y="-5.5" width="8" height="11"/><rect class="c" x="627" y="-5.5" width="13" height="11"/><rect class="c" x="654" y="-5.5" width="19" height="11"/><rect class="c" x="677" y="-5.5" width="12" height="11"/><rect class="c" x="730" y="-5.5" width="13" height="11"/><rect class="c" x="759" y="-5.5" width="24" height="11"/><rect class="c" x="906" y="-5.5" width="15" height="11"/><rect class="c" x="930" y="-5.5" width="20" height="11"/><rect class="c" x="961" y="-5.5" width="35" height="11"/></g></g>
<g id="n76" transform="translate(0 1663.8)"><text class="lb" x="217" y="6">Ga01G0731</text><g transform="scale(.6792 1)"><path class="in" d="M541 0H1022"/><rect class="c" x="541" y="-5.5" width="15" height="11"/><rect class="c" x="603" y="-5.5" width="8" height="11"/><rect class="c" x="627" y="-5.5" width="13" height="11"/><rect class="c" x="654" y="-5.5" width="19" height="11"/><rect class="c" x="677" y="-5.5" width="12" height="11"/><rect class="c" x="730" y="-5.5" width="13" height="11"/><rect class="c" x="769" y="-5.5" width="14" height="11"/><rect class="c" x="906" y="-5.5" width="15" height="11"/><rect class="c" x="930" y="-5.5" width="15" height="11"/><rect class="c" x="959" y="-5.5" width="38" height="11"/><rect class="c" x="1005" y="-5.5" width="17" height="11"/></g></g>
<g id="n77" transform="translate(0 1685.84)"><text class="lb" x="217" y="6">Gh_D06G1791</text><g transform="scale(.6792 1)"><path class="in" d="M541 0H751"/><rect class="c" x="541" y="-5.5" width="66" height="11"/><rect class="c" x="712" y="-5.5" width="39" height="11"/></g></g>
<g id="n78" transform="translate(0 1707.88)"><text class="lb" x="217" y="6">Gorai.010G198600</text><g transform="scale(.6792 1)"><path class="in" d="M541 0H791"/><rect class="u" x="541" y="-4" width="15" height="8"/><rect class="u" x="765" y="-4" width="26" height="8"/><rect class="c" x="556" y="-5.5" width="65" height="11"/><rect class="c" x="725" y="-5.5" width="40" height="11"/></g></g>
<g id="n79" transform="translate(0 1729.92)"><text class="lb" x="217" y="6">Ga06G2006</text><g transform="scale(.6792 1)"><path class="in" d="M541 0H750"/><rect class="c" x="541" y="-5.5" width="66" height="11"/><rect class="c" x="711" y="-5.5" width="39" height="11"/></g></g>
<g id="n80" transform="translate(0 1751.96)"><text class="lb" x="217" y="6">Gh_A06G1447</text><g transform="scale(.6792 1)"><path class="in" d="M541 0H749"/><rect class="c" x="541" y="-5.5" width="65" height="11"/><rect class="c" x="710" y="-5.5" width="39" height="11"/></g></g>
<g id="n81" transform="translate(0 1774)"><text class="lb" x="217" y="6">Ga04G1033</text><g transform="scale(.6792 1)"><rect class="c" x="541" y="-5.5" width="44" height="11"/></g></g>
<g id="n82" transform="translate(0 1796.04)"><text class="lb" x="217" y="6">Gh_Sca123119G01</text><g transform="scale(.6792 1)"><path class="in" d="M541 0H583"/><rect class="c" x="541" y="-5.5" width="28" height="11"/><rect class="c" x="578" y="-5.5" width="5" height="11"/></g></g>
<g id="n83" transform="translate(0 1818.08)"><text class="lb" x="217" y="6">Gh_Sca053293G01</text><g transform="scale(.6792 1)"><path class="in" d="M541 0H623"/><rect class="c" x="541" y="-5.5" width="15" height="11"/><rect class="c" x="564" y="-5.5" width="7" height="11"/><rect class="c" x="580" y="-5.5" width="16" height="11"/><rect class="c" x="606" y="-5.5" width="17" height="11"/></g></g>
<g id="n84" transform="translate(0 1840.12)"><text class="lb" x="217" y="6">Gh_A10G0361</text><g transform="scale(.6792 1)"><rect class="c" x="541" y="-5.5" width="98" height="11"/></g></g>
<g id="n85" transform="translate(0 1862.16)"><text class="lb" x="217" y="6">Ga10G2674</text><g transform="scale(.6792 1)"><rect class="c" x="541" y="-5.5" width="98" height="11"/></g></g>
<g id="n86" transform="translate(0 1884.2)"><text class="lb" x="217" y="6">Gh_D10G0369</text><g transform="scale(.6792 1)"><rect class="c" x="541" y="-5.5" width="98" height="11"/></g></g>
<g id="n87" transform="translate(0 1906.24)"><text class="lb" x="217" y="6">Gorai.011G041600</text><g transform="scale(.6792 1)"><rect class="u" x="541" y="-4" width="6" height="8"/><rect class="u" x="644" y="-4" width="35" height="8"/><rect class="c" x="547" y="-5.5" width="97" height="11"/></g></g>
<g id="n88" transform="translate(0 1928.28)"><text class="lb" x="217" y="6">Gh_D06G2350</text><g transform="scale(.6792 1)"><path class="in" d="M541 0H640"/><rect class="c" x="541" y="-5.5" width="12" height="11"/><rect class="c" x="580" y="-5.5" width="60" height="11"/></g></g>
<g id="n89" transform="translate(0 1950.32)"><text class="lb" x="217" y="6">Gorai.010G165000</text><g transform="scale(.6792 1)"><path class="in" d="M541 0H640"/><rect class="c" x="541" y="-5.5" width="12" height="11"/><rect class="c" x="580" y="-5.5" width="60" height="11"/></g></g>
<g id="n90" transform="translate(0 1972.36)"><text class="lb" x="217" y="6">Gh_A04G0961</text><g transform="scale(.6792 1)"><path class="in" d="M541 0H748"/><rect class="c" x="541" y="-5.5" width="29" height="11"/><rect class="c" x="681" y="-5.5" width="67" height="11"/></g></g>
<g id="n91" transform="translate(0 1994.4)"><text class="lb" x="217" y="6">Gorai.012G141200</text><g transform="scale(.6792 1)"><path class="in" d="M541 0H789"/><rect class="u" x="541" y="-4" width="12" height="8"/><rect class="u" x="765" y="-4" width="24" height="8"/><rect class="c" x="553" y="-5.5" width="27" height="11"/><rect class="c" x="697" y="-5.5" width="68" height="11"/></g></g>
<g id="n92" transform="translate(0 2016.44)"><text class="lb" x="217" y="6">Ga13G0254</text><g transform="scale(.6792 1)"><path class="in" d="M541 0H730"/><rect class="c" x="541" y="-5.5" width="29" height="11"/><rect class="c" x="680" y="-5.5" width="36" height="11"/><rect class="c" x="719" y="-5.5" width="11" height="11"/></g></g>
<g id="n93" transform="translate(0 2038.48)"><text class="lb" x="217" y="6">Gh_D04G1505</text><g transform="scale(.6792 1)"><path class="in" d="M541 0H750"/><rect class="c" x="541" y="-5.5" width="29" height="11"/><rect class="c" x="683" y="-5.5" width="33" height="11"/><rect class="c" x="717" y="-5.5" width="9" height="11"/><rect class="c" x="729" y="-5.5" width="21" height="11"/></g></g>
<g id="n94" transform="translate(0 2060.52)"><text class="lb" x="217" y="6">Gh_A03G2154</text><g transform="scale(.6792 1)"><path class="in" d="M541 0H649"/><rect class="c" x="541" y="-5.5" width="29" height="11"/><rect class="c" x="581" y="-5.5" width="68" height="11"/></g></g>
<g id="n95" transform="translate(0 2082.56)"><text class="lb" x="217" y="6">Gh_D02G1996</text><g transform="scale(.6792 1)"><path class="in" d="M541 0H649"/><rect class="c" x="541" y="-5.5" width="27" height="11"/><rect class="c" x="581" y="-5.5" width="68" height="11"/></g></g>
<g id="n96" transform="translate(0 2104.6)"><text class="lb" x="217" y="6">Gorai.005G219000</text><g transform="scale(.6792 1)"><path class="in" d="M541 0H695"/><rect class="u" x="541" y="-4" width="16" height="8"/><rect class="u" x="662" y="-4" width="33" height="8"/><rect class="c" x="557" y="-5.5" width="27" height="11"/><rect class="c" x="596" y="-5.5" width="66" height="11"/></g></g>
<g id="n97" transform="translate(0 2126.64)"><text class="lb" x="217" y="6">Gh_D01G0531</text><g transform="scale(.6792 1)"><path class="in" d="M541 0H656"/><rect class="c" x="541" y="-5.5" width="14" height="11"/><rect class="c" x="564" y="-5.5" width="19" height="11"/><rect class="c" x="593" y="-5.5" width="63" height="11"/></g></g>
<g id="n98" transform="translate(0 2148.68)"><text class="lb" x="217" y="6">Gh_Sca017783G01</text><g transform="scale(.6792 1)"><rect class="c" x="541" y="-5.5" width="24" height="11"/></g></g>
<g id="n99" transform="translate(0 2170.72)"><text class="lb" x="217" y="6">Ga03G2284</text><g transform="scale(.6792 1)"><path class="in" d="M541 0H649"/><rect class="c" x="541" y="-5.5" width="7" height="11"/><rect class="c" x="555" y="-5.5" width="15" height="11"/><rect class="c" x="581" y="-5.5" width="42" height="11"/><rect class="c" x="630" y="-5.5" width="19" height="11"/></g></g>
<g id="n100" transform="translate(0 2192.76)"><text class="lb" x="217" y="6">Gh_D01G2232</text><g transform="scale(.6792 1)"><path class="in" d="M541 0H694"/><rect class="c" x="541" y="-5.5" width="62" height="11"/><rect class="c" x="650" y="-5.5" width="44" height="11"/></g></g>
<g id="n101" transform="translate(0 2214.8)"><text class="lb" x="217" y="6">Gorai.002G263900</text><g transform="scale(.6792 1)"><path class="in" d="M541 0H740"/><rect class="u" x="541" y="-4" width="21" height="8"/><rect class="u" x="713" y="-4" width="27" height="8"/><rect class="c" x="562" y="-5.5" width="61" height="11"/><rect class="c" x="669" y="-5.5" width="44" height="11"/></g></g>
<g id="n102" transform="translate(0 2236.84)"><text class="lb" x="217" y="6">Gh_A01G1972</text><g transform="scale(.6792 1)"><path class="in" d="M541 0H694"/><rect class="c" x="541" y="-5.5" width="62" height="11"/><rect class="c" x="650" y="-5.5" width="44" height="11"/></g></g>
<g id="n103" transform="translate(0 2258.88)"><text class="lb" x="217" y="6">Ga14G0061</text><g transform="scale(.6792 1)"><path class="in" d="M541 0H666"/><rect class="c" x="541" y="-5.5" width="62" height="11"/><rect class="c" x="623" y="-5.5" width="43" height="11"/></g></g>
<g id="n104" transform="translate(0 2280.92)"><text class="lb" x="217" y="6">Gorai.002G076400</text><g transform="scale(.6792 1)"><path class="in" d="M541 0H707"/><rect class="u" x="541" y="-4" width="25" height="8"/><rect class="u" x="680" y="-4" width="27" height="8"/><rect class="c" x="566" y="-5.5" width="14" height="11"/><rect class="c" x="588" y="-5.5" width="19" height="11"/><rect class="c" x="618" y="-5.5" width="62" height="11"/></g></g>
<g id="n105" transform="translate(0 2302.96)"><text class="lb" x="217" y="6">Gorai.009G430800</text><g transform="scale(.6792 1)"><path class="in" d="M541 0H822"/><rect class="u" x="541" y="-4" width="22" height="8"/><rect class="u" x="729" y="-4" width="93" height="8"/><rect class="c" x="563" y="-5.5" width="15" height="11"/><rect class="c" x="604" y="-5.5" width="20" height="11"/><rect class="c" x="667" y="-5.5" width="62" height="11"/></g></g>
<g id="n106" transform="translate(0 2325)"><text class="lb" x="217" y="6">Gh_A04G0218</text><g transform="scale(.6792 1)"><path class="in" d="M541 0H707"/><rect class="c" x="541" y="-5.5" width="16" height="11"/><rect class="c" x="582" y="-5.5" width="19" height="11"/><rect class="c" x="643" y="-5.5" width="64" height="11"/></g></g>
<g id="n107" transform="translate(0 2347.04)"><text class="lb" x="217" y="6">Ga05G4018</text><g transform="scale(.6792 1)"><path class="in" d="M541 0H706"/><rect class="c" x="541" y="-5.5" width="16" height="11"/><rect class="c" x="582" y="-5.5" width="19" height="11"/><rect class="c" x="643" y="-5.5" width="63" height="11"/></g></g>
<g id="n108" transform="translate(0 2369.08)"><text class="lb" x="217" y="6">Gh_D05G3484</text><g transform="scale(.6792 1)"><path class="in" d="M541 0H707"/><rect class="c" x="541" y="-5.5" width="16" height="11"/><rect class="c" x="582" y="-5.5" width="20" height="11"/><rect class="c" x="644" y="-5.5" width="63" height="11"/></g></g>
<g id="n109" transform="translate(0 2391.12)"><text class="lb" x="217" y="6">Ga05G4015</text><g transform="scale(.6792 1)"><path class="in" d="M541 0H706"/><rect class="c" x="541" y="-5.5" width="16" height="11"/><rect class="c" x="582" y="-5.5" width="20" height="11"/><rect class="c" x="643" y="-5.5" width="63" height="11"/></g></g>
<g id="axis">
<path class="ax" d="M367.5 2411.7H1049.4M367.5 2406.5V2411.7M451.6 2406.5V2411.7M535.6 2406.5V2411.7M619.7 2406.5V2411.7M703.7 2406.5V2411.7M787.8 2406.5V2411.7M871.8 2406.5V2411.7M955.9 2406.5V2411.7M1039.9 2406.5V2411.7"/>
<text class="tk" x="357" y="2408">5'</text>
<text class="tk" x="1059" y="2408">3'</text>
<text class="tk" x="367.5" y="2425.5">0kb</text>
<text class="tk" x="451.6" y="2425.5">1kb</text>
<text class="tk" x="535.6" y="2425.5">2kb</text>
<text class="tk" x="619.7" y="2425.5">3kb</text>
<text class="tk" x="703.7" y="2425.5">4kb</text>
<text class="tk" x="787.8" y="2425.5">5kb</text>
<text class="tk" x="871.8" y="2425.5">6kb</text>
<text class="tk" x="955.9" y="2425.5">7kb</text>
<text class="tk" x="1039.9" y="2425.5">8kb</text>
</g>
<g id="legend">
<text class="lg" x="217" y="2452" style="font-size:16px">Legend:</text>
<rect class="c" x="218.7" y="2462.7" width="20.3" height="11" style="rx:3.5px;ry:4px"/>
<text class="lg" x="246" y="2473">CDS</text>
<rect class="u" x="296" y="2465.5" width="22" height="7"/>
<text class="lg" x="324" y="2473">upstream/ downstream</text>
<path class="in" d="M473 2467.5H494.5"/>
<text class="lg" x="501" y="2473">Intron</text>
</g>
</svg>
